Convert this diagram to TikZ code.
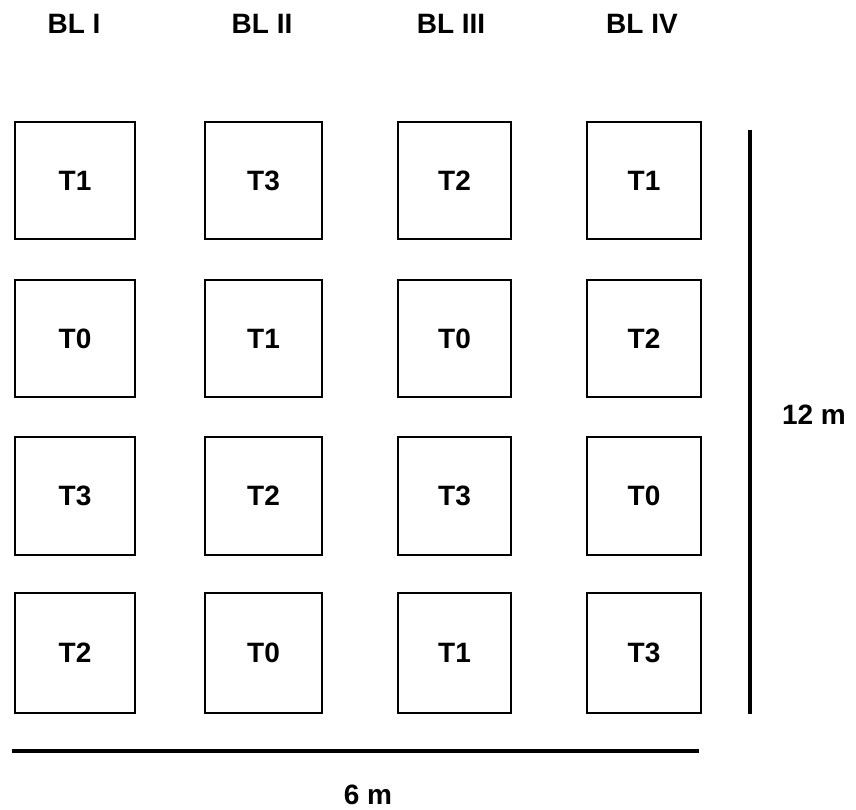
\documentclass[tikz,border=0pt]{standalone}
\usepackage{fontspec}
\setmainfont{Liberation Sans}
\begin{document}
\begin{tikzpicture}[x=1pt,y=-1pt,
  txt/.style={font=\bfseries\fontsize{28}{33}\selectfont, inner sep=0pt, outer sep=0pt},
  plot/.style={txt, draw, line width=1.6pt},
  scale bar/.style={line width=3.2pt}]
\useasboundingbox (0,0) rectangle (856,810);
% block headers
\node[txt] (h1) at (74,24) {BL I};
\node[txt] (h2) at (262,24) {BL II};
\node[txt] (h3) at (451,24) {BL III};
\node[txt] (h4) at (642,24) {BL IV};
% row 1
\node[plot, minimum width=120pt, minimum height=117pt] (p11) at (75,180.5) {T1};
\node[plot, minimum width=117pt, minimum height=117pt] (p12) at (263.5,180.5) {T3};
\node[plot, minimum width=113pt, minimum height=117pt] (p13) at (454.5,180.5) {T2};
\node[plot, minimum width=114pt, minimum height=117pt] (p14) at (644,180.5) {T1};
% row 2
\node[plot, minimum width=120pt, minimum height=117pt] (p21) at (75,338.5) {T0};
\node[plot, minimum width=117pt, minimum height=117pt] (p22) at (263.5,338.5) {T1};
\node[plot, minimum width=113pt, minimum height=117pt] (p23) at (454.5,338.5) {T0};
\node[plot, minimum width=114pt, minimum height=117pt] (p24) at (644,338.5) {T2};
% row 3
\node[plot, minimum width=120pt, minimum height=118pt] (p31) at (75,496) {T3};
\node[plot, minimum width=117pt, minimum height=118pt] (p32) at (263.5,496) {T2};
\node[plot, minimum width=113pt, minimum height=118pt] (p33) at (454.5,496) {T3};
\node[plot, minimum width=114pt, minimum height=118pt] (p34) at (644,496) {T0};
% row 4
\node[plot, minimum width=120pt, minimum height=120pt] (p41) at (75,653) {T2};
\node[plot, minimum width=117pt, minimum height=120pt] (p42) at (263.5,653) {T0};
\node[plot, minimum width=113pt, minimum height=120pt] (p43) at (454.5,653) {T1};
\node[plot, minimum width=114pt, minimum height=120pt] (p44) at (644,653) {T3};
% scale bars
\coordinate (vtop) at (750,130);
\coordinate (vbot) at (750,714);
\coordinate (hl) at (12,751);
\coordinate (hr) at (699,751);
\draw[scale bar] (vtop) -- (vbot);
\draw[scale bar] (hl) -- (hr);
\node[txt] (lv) at (814,415) {12 m};
\node[txt] (lh) at (368,795) {6 m};
\end{tikzpicture}
\end{document}
